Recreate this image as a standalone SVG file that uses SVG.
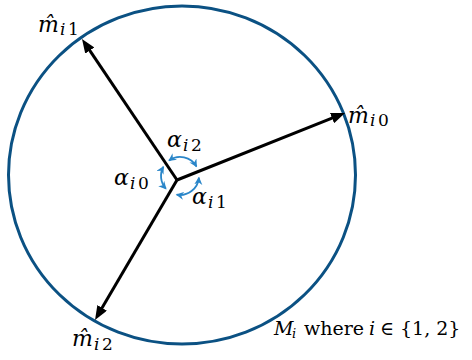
<svg xmlns="http://www.w3.org/2000/svg" width="472" height="360" viewBox="0 0 472 360">
<defs>
<style>
.ring{fill:none;stroke:#0b5183;stroke-width:3}
.vec{fill:none;stroke:#000;stroke-width:3}
.ang{fill:none;stroke:#2a86c9;stroke-width:1.8}
text{font-family:"DejaVu Serif","Liberation Serif",serif;fill:#000}
.it{font-style:italic}
</style>
<marker id="ah" markerUnits="userSpaceOnUse" markerWidth="15" markerHeight="11" refX="2" refY="5.5" orient="auto">
<path d="M0,0 L14,5.5 L0,11 z" fill="#000"/>
</marker>
<marker id="bh" markerUnits="userSpaceOnUse" markerWidth="10" markerHeight="9" refX="7" refY="4" orient="auto-start-reverse">
<path d="M0,0 L8,4 L0,8 L2.5,4 z" fill="#2a86c9"/>
</marker>
</defs>
<ellipse class="ring" cx="182" cy="175" rx="173.5" ry="169"/>
<g id="connectors">
<line class="vec" x1="177" y1="180" x2="88.7" y2="48.9" marker-end="url(#ah)"/>
<line class="vec" x1="177" y1="180" x2="333.9" y2="117.4" marker-end="url(#ah)"/>
<line class="vec" x1="177" y1="180" x2="101.1" y2="309.6" marker-end="url(#ah)"/>
<path class="ang" d="M169.10,160.44 A19,19 0 0 1 196.45,166.5" marker-start="url(#bh)" marker-end="url(#bh)"/>
<path class="ang" d="M165.88,188.71 A19,19 0 0 1 163.38,166.79" marker-start="url(#bh)" marker-end="url(#bh)"/>
<path class="ang" d="M198.93,177.66 A19,19 0 0 1 176.70,194.71" marker-start="url(#bh)" marker-end="url(#bh)"/>
</g>
<g id="m_i1">
<text x="38" y="32" font-size="22" class="it">m&#x302;</text>
<text x="60" y="35" font-size="17" class="it">i</text>
<text x="68" y="35" font-size="17">1</text>
</g>
<g id="m_i0">
<text x="348" y="123" font-size="22" class="it">m&#x302;</text>
<text x="370" y="126" font-size="17" class="it">i</text>
<text x="378" y="126" font-size="17">0</text>
</g>
<g id="m_i2">
<text x="72" y="346" font-size="22" class="it">m&#x302;</text>
<text x="94" y="350" font-size="17" class="it">i</text>
<text x="102" y="350" font-size="17">2</text>
</g>
<g id="a_i2">
<text x="167" y="147" font-size="22" class="it">α</text>
<text x="183" y="151" font-size="17" class="it">i</text>
<text x="191" y="151" font-size="17">2</text>
</g>
<g id="a_i0">
<text x="114" y="185" font-size="22" class="it">α</text>
<text x="130" y="189" font-size="17" class="it">i</text>
<text x="138" y="189" font-size="17">0</text>
</g>
<g id="a_i1">
<text x="192" y="204" font-size="22" class="it">α</text>
<text x="208" y="208" font-size="17" class="it">i</text>
<text x="216" y="208" font-size="17">1</text>
</g>
<g id="caption" font-size="19">
<text x="274" y="335" class="it">M</text>
<text x="292" y="338" font-size="13" class="it">i</text>
<text x="304" y="335">where</text>
<text x="369" y="335" class="it">i</text>
<text x="380" y="335">∈</text>
<text x="400" y="335">{1, 2}</text>
</g>
</svg>
